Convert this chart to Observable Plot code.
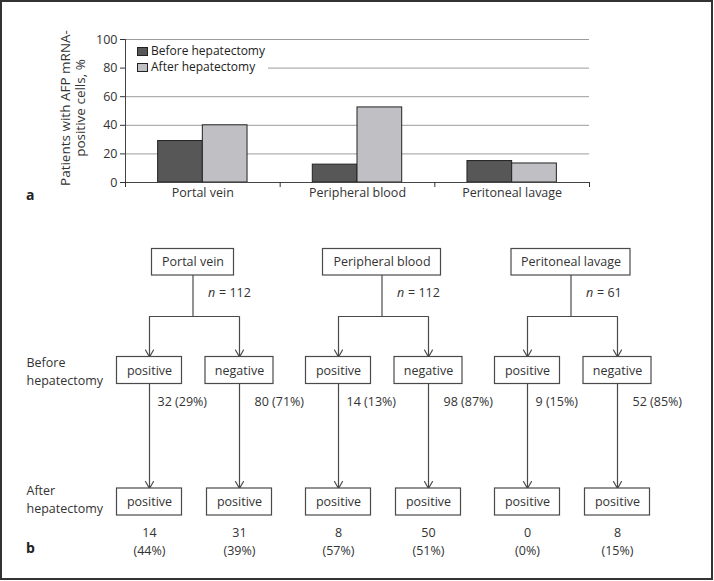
<!DOCTYPE html>
<html><head><meta charset="utf-8">
<script src="https://cdn.jsdelivr.net/npm/d3@7"></script>
<script src="https://cdn.jsdelivr.net/npm/@observablehq/plot@0.6"></script>
<style>
body{margin:0;background:#fff;font-family:"Open Sans",sans-serif;overflow:hidden;}
#wrap{position:relative;width:714px;height:581px;overflow:hidden;background:#fff;}
#frame{position:absolute;left:0;top:0;width:709px;height:576px;border:2px solid #333;pointer-events:none;}
#topChart{position:absolute;left:0;top:0;}
#bottomChart{position:absolute;left:0;top:215px;}
#legend{position:absolute;left:126px;top:41px;width:142px;height:32px;background:#fff;}
.li{position:absolute;left:11px;font-size:12px;line-height:16px;color:#222;white-space:nowrap;}
.sw{position:absolute;left:0;width:9px;height:7px;border:1px solid #222;top:4px;}
.li span.t{position:absolute;left:14px;top:0;}
.panel{position:absolute;left:26px;font-weight:bold;font-size:14px;line-height:16px;color:#222;}
</style></head>
<body>
<div id="wrap">
  <div id="topChart"></div>
  <div id="bottomChart"></div>
  <div id="legend"></div>
  <div class="panel" style="top:187px">a</div>
  <div class="panel" style="top:540px">b</div>
  <div id="frame"></div>
</div>
<script>
// ---------- Panel a data ----------
const categories = ["Portal vein", "Peripheral blood", "Peritoneal lavage"];
const seriesNames = ["Before hepatectomy", "After hepatectomy"];
const beforeValues = [29, 12.5, 15];
const afterValues = [40, 52.5, 13.3];
const yTicks = [0, 20, 40, 60, 80, 100];
const seriesColors = ["#575757", "#c0c0c4"];

// ---------- Panel b data ----------
const sites = ["Portal vein", "Peripheral blood", "Peritoneal lavage"];
const nValues = [112, 112, 61];
const branchNames = ["positive", "negative"];
const beforeCounts = [[32, 80], [14, 98], [9, 52]];
const beforePct = [[29, 71], [13, 87], [15, 85]];
const afterCounts = [[14, 31], [8, 50], [0, 8]];
const afterPct = [[44, 39], [57, 51], [0, 15]];
const afterLabel = "positive";
const stageLabels = ["Before\nhepatectomy", "After\nhepatectomy"];

// ---------- Panel a ----------
const barGap = 0.211, barW = 0.289;
const rows = categories.flatMap((c, i) => [
  {cat: c, i, s: 0, series: seriesNames[0], v: beforeValues[i]},
  {cat: c, i, s: 1, series: seriesNames[1], v: afterValues[i]}
]);

const chartA = Plot.plot({
  width: 714, height: 215,
  marginLeft: 125, marginRight: 125, marginTop: 39, marginBottom: 33,
  style: {fontFamily: "Open Sans", fontSize: "12.5px", color: "#333", background: "transparent", overflow: "visible"},
  x: {type: "linear", domain: [0, categories.length]},
  y: {domain: [0, 100]},
  color: {domain: seriesNames, range: seriesColors},
  marks: [
    Plot.ruleY(yTicks.filter(d => d > 0), {stroke: "#9c9c9c", strokeWidth: 1}),
    Plot.rect(rows, {
      x1: d => d.i + barGap + d.s * barW,
      x2: d => d.i + barGap + (d.s + 1) * barW,
      y1: d => 0, y2: "v", fill: "series", stroke: "#222", strokeWidth: 1
    }),
    Plot.ruleY([0], {stroke: "#444", strokeWidth: 1}),
    Plot.ruleX([0], {y1: 0, y2: 100, stroke: "#444", strokeWidth: 1}),
    Plot.axisY({ticks: yTicks, tickSize: 5, tickPadding: 3, fontSize: 12.5, label: null}),
    Plot.axisX({ticks: [0, 1, 2, 3], tickSize: 5, tickFormat: () => "", label: null}),
    Plot.axisX({ticks: categories.map((c, i) => i + 0.5), tickSize: 0, tickPadding: 6, fontSize: 12.5,
      tickFormat: d => categories[Math.floor(d)], label: null}),
    Plot.text(["Patients with AFP mRNA-\npositive cells, %"], {
      frameAnchor: "left", dx: -53, dy: -3, rotate: -90, fontSize: 13.5, lineHeight: 1.1, textAnchor: "middle", fill: "#333"
    })
  ]
});
document.getElementById("topChart").appendChild(chartA);

// legend
const leg = document.getElementById("legend");
seriesNames.forEach((s, k) => {
  const d = document.createElement("div");
  d.className = "li";
  d.style.top = (2 + k * 16) + "px";
  d.innerHTML = `<div class="sw" style="background:${seriesColors[k]}"></div><span class="t">${s}</span>`;
  leg.appendChild(d);
});

// ---------- Panel b layout ----------
const L = {
  x0: 192.5, step: 189,
  srcHalfW: [41, 59, 59.5],
  childOff: [-43.5, 46.5], childHalfW: [32.5, 34], countDx: [8, 15], botHalfW: 32.5,
  srcTop: 33.5, srcBot: 60, nY: 77, branchY: 101,
  childTop: 141.5, childBot: 168.5, countY: 186,
  botTop: 273, botBot: 300, numY: 317, pctY: 335,
  stageX: 26, stageY: [155, 283]
};
const sx = g => L.x0 + g * L.step;
const srcBoxes = sites.map((s, g) => ({g, label: s, cx: sx(g), x1: sx(g) - L.srcHalfW[g], x2: sx(g) + L.srcHalfW[g], n: nValues[g]}));
const children = sites.flatMap((s, g) => branchNames.map((b, k) => ({
  g, k, label: b, cx: sx(g) + L.childOff[k], hw: L.childHalfW[k],
  count: beforeCounts[g][k], pct: beforePct[g][k], aCount: afterCounts[g][k], aPct: afterPct[g][k]
})));
const branches = sites.map((s, g) => ({x1: sx(g) + L.childOff[0], x2: sx(g) + L.childOff[1]}));

const ln = "#4a4a4a";
const chartB = Plot.plot({
  width: 714, height: 366,
  marginLeft: 0, marginRight: 0, marginTop: 0, marginBottom: 0,
  style: {fontFamily: "Open Sans", fontSize: "12.5px", color: "#333", background: "transparent", overflow: "visible"},
  x: {type: "linear", domain: [0, 714], range: [0, 714], axis: null},
  y: {type: "linear", domain: [0, 366], range: [0, 366], axis: null},
  marks: [
    Plot.rect(srcBoxes, {x1: "x1", x2: "x2", y1: () => L.srcTop, y2: () => L.srcBot, fill: "white", stroke: ln, strokeWidth: 1.2}),
    Plot.text(srcBoxes, {x: "cx", y: () => (L.srcTop + L.srcBot) / 2, text: "label", fontSize: 12.5, fill: "#333"}),
    Plot.ruleX(srcBoxes, {x: "cx", y1: () => L.srcBot, y2: () => L.branchY, stroke: ln, strokeWidth: 1.2}),
    Plot.text(srcBoxes, {x: d => d.cx + 15, y: () => L.nY, text: () => "n", fontStyle: "italic", textAnchor: "start", fontSize: 12.5, fill: "#333"}),
    Plot.text(srcBoxes, {x: d => d.cx + 26, y: () => L.nY, text: d => "= " + d.n, textAnchor: "start", fontSize: 12.5, fill: "#333"}),
    Plot.ruleY(branches, {x1: "x1", x2: "x2", y: () => L.branchY, stroke: ln, strokeWidth: 1.2}),
    Plot.arrow(children, {x1: "cx", x2: "cx", y1: () => L.branchY, y2: () => L.childTop, stroke: ln, strokeWidth: 1.2, headLength: 10, headAngle: 60}),
    Plot.rect(children, {x1: d => d.cx - d.hw, x2: d => d.cx + d.hw, y1: () => L.childTop, y2: () => L.childBot, fill: "white", stroke: ln, strokeWidth: 1.2}),
    Plot.text(children, {x: "cx", y: () => (L.childTop + L.childBot) / 2, text: "label", fontSize: 12.5, fill: "#333"}),
    Plot.text(children, {x: d => d.cx + L.countDx[d.k], y: () => L.countY, text: d => `${d.count} (${d.pct}%)`, textAnchor: "start", fontSize: 12.5, fill: "#333"}),
    Plot.arrow(children, {x1: "cx", x2: "cx", y1: () => L.childBot, y2: () => L.botTop, stroke: ln, strokeWidth: 1.2, headLength: 10, headAngle: 60}),
    Plot.rect(children, {x1: d => d.cx - L.botHalfW, x2: d => d.cx + L.botHalfW, y1: () => L.botTop, y2: () => L.botBot, fill: "white", stroke: ln, strokeWidth: 1.2}),
    Plot.text(children, {x: "cx", y: () => (L.botTop + L.botBot) / 2, text: () => afterLabel, fontSize: 12.5, fill: "#333"}),
    Plot.text(children, {x: "cx", y: () => L.numY, text: d => String(d.aCount), fontSize: 12.5, fill: "#333"}),
    Plot.text(children, {x: "cx", y: () => L.pctY, text: d => `(${d.aPct}%)`, fontSize: 12.5, fill: "#333"}),
    Plot.text(stageLabels, {x: () => L.stageX, y: (d, i) => L.stageY[i], text: d => d, textAnchor: "start", lineHeight: 1.44, fontSize: 12.5, fill: "#333"})
  ]
});
document.getElementById("bottomChart").appendChild(chartB);
</script>
</body></html>
